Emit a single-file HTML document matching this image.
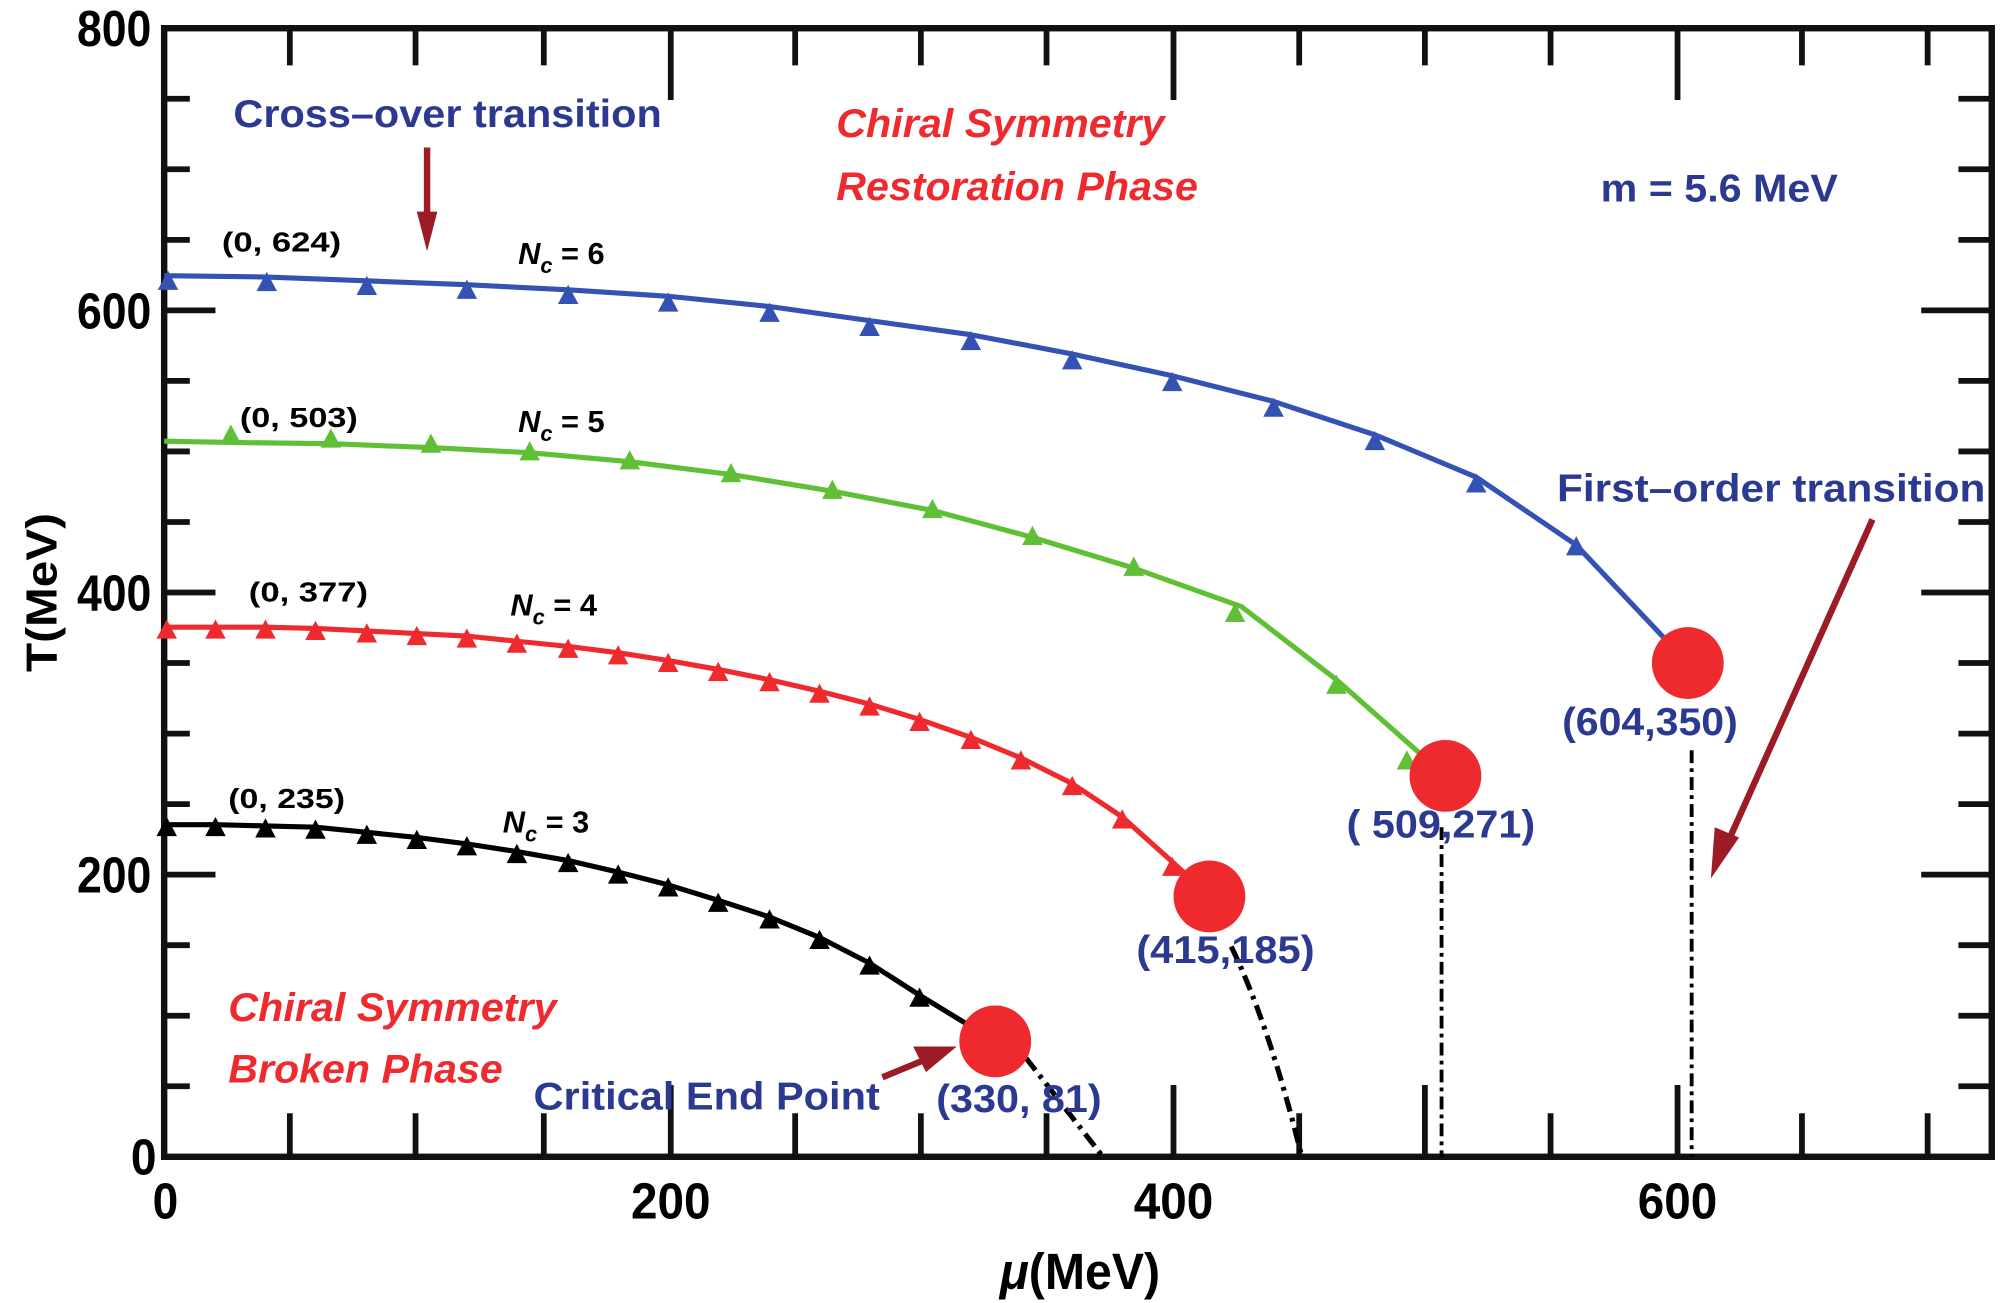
<!DOCTYPE html>
<html><head><meta charset="utf-8"><style>html,body{margin:0;padding:0;background:#fff}svg{display:block}</style></head>
<body>
<svg width="2011" height="1303" viewBox="0 0 1568 1016" preserveAspectRatio="none" xmlns="http://www.w3.org/2000/svg" font-family="Liberation Sans, Arial, sans-serif" font-weight="bold">
<defs>
<path id="tb" d="M0,-10 L8,5 L-8,5 Z" fill="#3452b4"/>
<path id="tg" d="M0,-10 L8,5 L-8,5 Z" fill="#5fc035"/>
<path id="tr" d="M0,-10 L8,5 L-8,5 Z" fill="#ee2a2e"/>
<path id="tk" d="M0,-10 L8,5 L-8,5 Z" fill="#000"/>
</defs>
<g stroke="#111" stroke-width="4.5">
<path d="M128,77h20M128,132h20M128,187h20M128,242h40M128,297h20M128,352h20M128,407h20M128,462h40M128,517h20M128,572h20M128,627h20M128,682h40M128,737h20M128,792h20M128,847h20"/>
<path d="M1553,77h-26M1553,132h-26M1553,187h-26M1553,242h-55M1553,297h-26M1553,352h-26M1553,407h-26M1553,462h-55M1553,517h-26M1553,572h-26M1553,627h-26M1553,682h-55M1553,737h-26M1553,792h-26M1553,847h-26"/>
<path d="M226,22v29M324,22v29M424,22v29M523,22v56M620,22v29M718,22v29M816,22v29M915,22v56M1013,22v29M1111,22v29M1209,22v29M1308,22v56M1405,22v29M1503,22v29"/>
<path d="M226,902v-34M324,902v-34M424,902v-34M523,902v-56M620,902v-34M718,902v-34M816,902v-34M915,902v-56M1013,902v-34M1111,902v-56M1209,902v-34M1308,902v-56M1405,902v-34M1503,902v-34"/>
</g>
<rect x="128" y="22" width="1425" height="880" fill="none" stroke="#111" stroke-width="5"/>
<g font-size="40" fill="#000" text-anchor="end">
<text x="118" y="36" textLength="58" lengthAdjust="spacingAndGlyphs">800</text>
<text x="118" y="256" textLength="58" lengthAdjust="spacingAndGlyphs">600</text>
<text x="118" y="476" textLength="58" lengthAdjust="spacingAndGlyphs">400</text>
<text x="118" y="696" textLength="58" lengthAdjust="spacingAndGlyphs">200</text>
<text x="122" y="916" textLength="20" lengthAdjust="spacingAndGlyphs">0</text>
</g>
<g font-size="40" fill="#000" text-anchor="middle">
<text x="129" y="950" textLength="20" lengthAdjust="spacingAndGlyphs">0</text>
<text x="523" y="950" textLength="62" lengthAdjust="spacingAndGlyphs">200</text>
<text x="915" y="950" textLength="62" lengthAdjust="spacingAndGlyphs">400</text>
<text x="1308" y="950" textLength="62" lengthAdjust="spacingAndGlyphs">600</text>
<text x="842" y="1005" textLength="125" lengthAdjust="spacingAndGlyphs"><tspan font-style="italic">μ</tspan>(MeV)</text>
<text transform="translate(44,462) rotate(-90)" font-size="34" textLength="124" lengthAdjust="spacingAndGlyphs">T(MeV)</text>
</g>
<g fill="none" stroke-width="4" stroke-linejoin="round">
<path stroke="#3452b4" d="M128,215 L208,216 L286,219 L364,222 L443,226 L521,231 L600,239 L678,250 L757,261 L836,276 L914,293 L993,313 L1072,339 L1151,372 L1229,425 L1316,517"/>
<path stroke="#5fc035" d="M128,344 L180,345 L258,346 L336,349 L413,353 L491,360 L570,370 L649,383 L727,398 L805,419 L884,443 L968,473 L1042,530 L1127,605"/>
<path stroke="#ee2a2e" d="M128,489 L168,489 L207,489 L246,490 L286,492 L325,494 L364,496 L403,500 L443,504 L482,509 L521,515 L560,522 L600,530 L639,539 L678,549 L717,561 L757,575 L796,591 L836,611 L875,637 L914,672 L943,699"/>
<path stroke="#000" d="M128,643 L168,643 L207,644 L246,645 L286,649 L325,653 L364,658 L403,664 L443,671 L482,680 L521,690 L560,702 L600,715 L639,731 L678,751 L717,776 L776,812"/>
</g>
<g stroke="#000" stroke-width="4" fill="none" stroke-dasharray="12,5,3,5">
<path d="M960,738 Q990,800 1015,902"/>
<path d="M800,825 L860,902"/>
</g>
<g stroke="#000" stroke-width="3" fill="none" stroke-dasharray="10,4,3,4">
<path d="M1124,645 V902"/>
<path d="M1319,585 V902"/>
</g>
<g>
<use href="#tb" x="131" y="221"/><use href="#tb" x="208" y="222"/><use href="#tb" x="286" y="225"/><use href="#tb" x="364" y="228"/><use href="#tb" x="443" y="232"/><use href="#tb" x="521" y="238"/><use href="#tb" x="600" y="246"/><use href="#tb" x="678" y="257"/><use href="#tb" x="757" y="268"/><use href="#tb" x="836" y="283"/><use href="#tb" x="914" y="300"/><use href="#tb" x="993" y="320"/><use href="#tb" x="1072" y="346"/><use href="#tb" x="1151" y="379"/><use href="#tb" x="1229" y="428"/>
<use href="#tg" x="180" y="341"/><use href="#tg" x="258" y="344"/><use href="#tg" x="336" y="348"/><use href="#tg" x="413" y="354"/><use href="#tg" x="491" y="361"/><use href="#tg" x="570" y="371"/><use href="#tg" x="649" y="384"/><use href="#tg" x="727" y="399"/><use href="#tg" x="805" y="420"/><use href="#tg" x="884" y="444"/><use href="#tg" x="963" y="480"/><use href="#tg" x="1042" y="536"/><use href="#tg" x="1097" y="595"/>
<use href="#tr" x="130" y="493"/><use href="#tr" x="168" y="493"/><use href="#tr" x="207" y="493"/><use href="#tr" x="246" y="494"/><use href="#tr" x="286" y="496"/><use href="#tr" x="325" y="498"/><use href="#tr" x="364" y="500"/><use href="#tr" x="403" y="504"/><use href="#tr" x="443" y="508"/><use href="#tr" x="482" y="513"/><use href="#tr" x="521" y="519"/><use href="#tr" x="560" y="526"/><use href="#tr" x="600" y="534"/><use href="#tr" x="639" y="543"/><use href="#tr" x="678" y="553"/><use href="#tr" x="717" y="565"/><use href="#tr" x="757" y="579"/><use href="#tr" x="796" y="595"/><use href="#tr" x="836" y="615"/><use href="#tr" x="875" y="641"/><use href="#tr" x="914" y="678"/>
<use href="#tk" x="130" y="647"/><use href="#tk" x="168" y="647"/><use href="#tk" x="207" y="648"/><use href="#tk" x="246" y="649"/><use href="#tk" x="286" y="653"/><use href="#tk" x="325" y="657"/><use href="#tk" x="364" y="662"/><use href="#tk" x="403" y="668"/><use href="#tk" x="443" y="675"/><use href="#tk" x="482" y="684"/><use href="#tk" x="521" y="694"/><use href="#tk" x="560" y="706"/><use href="#tk" x="600" y="719"/><use href="#tk" x="639" y="735"/><use href="#tk" x="678" y="755"/><use href="#tk" x="717" y="780"/>
</g>
<g fill="#ee2a2e">
<circle cx="1316" cy="517" r="28"/>
<circle cx="1127" cy="605" r="28"/>
<circle cx="943" cy="699" r="28"/>
<circle cx="776" cy="812" r="28"/>
</g>
<g stroke="#9b1c24" stroke-width="5" fill="#9b1c24">
<line x1="333" y1="115" x2="333" y2="170"/>
<path d="M325,165 L341,165 L333,196 Z" stroke="none"/>
<line x1="1460" y1="405" x2="1348" y2="655"/>
<path d="M1334,685 L1337,645 L1356,653 Z" stroke="none"/>
<line x1="688" y1="840" x2="722" y2="826"/>
<path d="M746,816 L712,816 L722,836 Z" stroke="none"/>
</g>
<g fill="#2b3990" font-size="30">
<text x="182" y="99" textLength="334" lengthAdjust="spacingAndGlyphs">Cross–over transition</text>
<text x="1248" y="157" textLength="185" lengthAdjust="spacingAndGlyphs">m = 5.6 MeV</text>
<text x="1214" y="391" textLength="334" lengthAdjust="spacingAndGlyphs">First–order  transition</text>
<text x="1218" y="573" textLength="137" lengthAdjust="spacingAndGlyphs">(604,350)</text>
<text x="1050" y="653" textLength="147" lengthAdjust="spacingAndGlyphs">( 509,271)</text>
<text x="886" y="751" textLength="139" lengthAdjust="spacingAndGlyphs">(415,185)</text>
<text x="730" y="867" textLength="129" lengthAdjust="spacingAndGlyphs">(330, 81)</text>
<text x="416" y="865" textLength="270" lengthAdjust="spacingAndGlyphs">Critical End Point</text>
</g>
<g fill="#ee2a2e" font-size="31" font-style="italic">
<text x="652" y="107" textLength="256" lengthAdjust="spacingAndGlyphs">Chiral Symmetry</text>
<text x="652" y="156" textLength="282" lengthAdjust="spacingAndGlyphs">Restoration Phase</text>
<text x="178" y="796" textLength="256" lengthAdjust="spacingAndGlyphs">Chiral Symmetry</text>
<text x="178" y="844" textLength="214" lengthAdjust="spacingAndGlyphs">Broken Phase</text>
</g>
<g fill="#000" font-size="22">
<text x="173" y="196" textLength="93" lengthAdjust="spacingAndGlyphs">(0,  624)</text>
<text x="187" y="333" textLength="92" lengthAdjust="spacingAndGlyphs">(0,  503)</text>
<text x="194" y="469" textLength="93" lengthAdjust="spacingAndGlyphs">(0,  377)</text>
<text x="178" y="630" textLength="91" lengthAdjust="spacingAndGlyphs">(0,  235)</text>
<text x="404" y="206" font-size="24"><tspan font-style="italic">N</tspan><tspan font-style="italic" font-size="17" dy="7">c</tspan><tspan dy="-7"> =  6</tspan></text>
<text x="404" y="337" font-size="24"><tspan font-style="italic">N</tspan><tspan font-style="italic" font-size="17" dy="7">c</tspan><tspan dy="-7"> =  5</tspan></text>
<text x="398" y="480" font-size="24"><tspan font-style="italic">N</tspan><tspan font-style="italic" font-size="17" dy="7">c</tspan><tspan dy="-7"> =  4</tspan></text>
<text x="392" y="649" font-size="24"><tspan font-style="italic">N</tspan><tspan font-style="italic" font-size="17" dy="7">c</tspan><tspan dy="-7"> =  3</tspan></text>
</g>
</svg>
</body></html>
